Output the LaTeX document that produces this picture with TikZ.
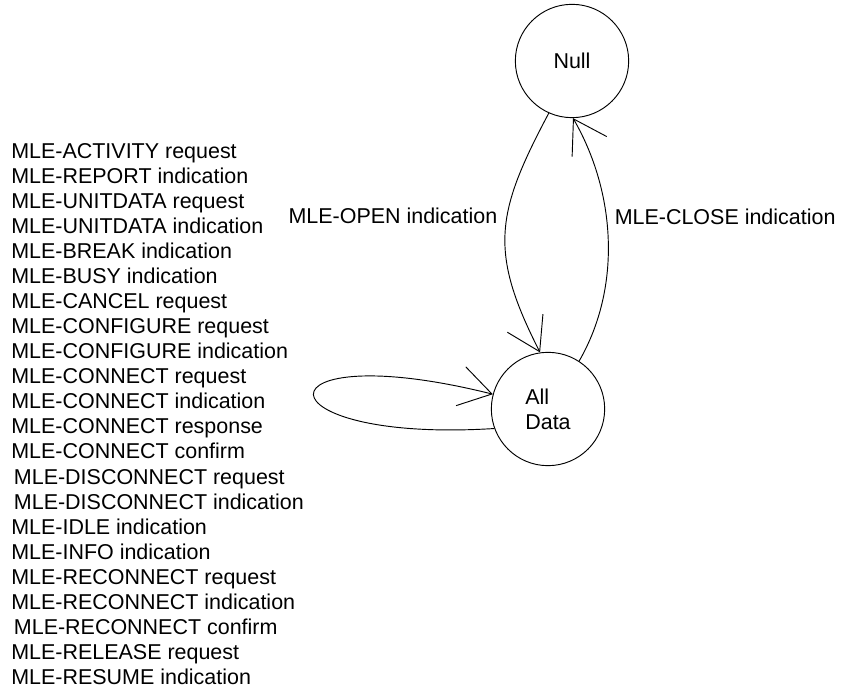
\documentclass[tikz,border=0pt]{standalone}
\usepackage{fontspec}
\setmainfont{Liberation Sans}
\usepackage{tikz}
\usetikzlibrary{arrows.meta,positioning}
\newcommand{\mlefont}{\fontsize{16.1}{18.8}\selectfont}
\tikzset{
  >={Straight Barb[length=24pt,width=30pt]},
  mlestate/.style={circle,draw=black,line width=0.7pt,minimum size=85pt,
    inner sep=0pt,font=\mlefont},
  trans/.style={->,line width=0.7pt},
  translbl/.style={font=\mlefont,inner sep=7pt},
  primlist/.style={font=\mlefont,align=left,inner sep=0pt},
}
\begin{document}
\begin{tikzpicture}[x=0.75pt,y=0.75pt]
  \useasboundingbox (0,0) rectangle (841,688);
  \node[mlestate] (null) at (572,627) {Null};
  \node[mlestate,align=left] (ad) at (548,279) {All\\Data};
  \node[primlist,anchor=west] (prims) at (11,274)
    {MLE-ACTIVITY request\\ MLE-REPORT indication\\ MLE-UNITDATA request\\
     MLE-UNITDATA indication\\ MLE-BREAK indication\\ MLE-BUSY indication\\
     MLE-CANCEL request\\ MLE-CONFIGURE request\\ MLE-CONFIGURE indication\\
     MLE-CONNECT request\\ MLE-CONNECT indication\\ MLE-CONNECT response\\
     MLE-CONNECT confirm\\ \hspace*{2pt}MLE-DISCONNECT request\\
     \hspace*{2pt}MLE-DISCONNECT indication\\ MLE-IDLE indication\\
     MLE-INFO indication\\ MLE-RECONNECT request\\ MLE-RECONNECT indication\\
     \hspace*{2pt}MLE-RECONNECT confirm\\ MLE-RELEASE request\\
     MLE-RESUME indication};
  \draw[trans] (null.-114) to[out=-118,in=117,looseness=1.21]
    node[translbl,left,pos=0.42] (open) {MLE-OPEN indication} (ad.98);
  \draw[trans] (ad.57) to[out=60,in=-60,looseness=0.9]
    node[translbl,right,pos=0.59,inner sep=6pt] (close) {MLE-CLOSE indication} (null.-89);
  \draw[trans] (ad.200) .. controls +(-240,-15) and +(-240,60) .. (ad.165);
\end{tikzpicture}
\end{document}
